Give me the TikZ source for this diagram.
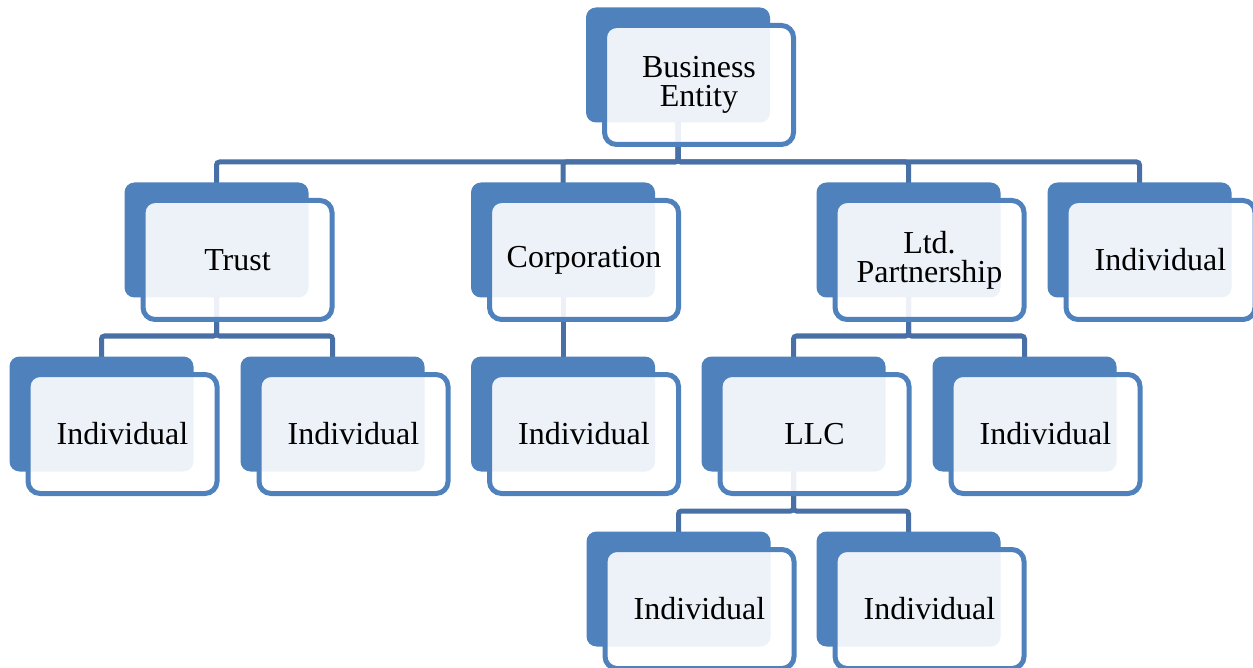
\documentclass[tikz,border=0pt]{standalone}
\usepackage{fontspec}
\setmainfont{Liberation Serif}
\definecolor{boxblue}{RGB}{79,129,189}
\definecolor{linkblue}{RGB}{72,112,166}
\tikzset{
  backbox/.style={rectangle, rounded corners=10pt, fill=boxblue, minimum width=184pt, minimum height=115pt, inner sep=0pt},
  frontbox/.style={rectangle, rounded corners=12pt, draw=boxblue, line width=5pt, fill=white, fill opacity=0.9, text opacity=1,
    minimum width=189pt, minimum height=119pt, inner sep=0pt, align=center, font=\fontsize{32}{29}\selectfont},
  conn/.style={draw=linkblue, line width=5pt, rounded corners=3pt}
}
\newcommand{\entity}[4]{%
  \node[backbox] (b#1) at (#2,#3) {};
  \node[frontbox] (#1) at (#2+21,#3+20) {#4};
}
\begin{document}
\begin{tikzpicture}[x=1pt,y=-1pt]
\useasboundingbox (0,0) rectangle (1253,668);
% coordinates of back boxes for connectors (drawn first)
\path (678,65) coordinate (cTop)
      (216.5,240) coordinate (cTrust) (563,240) coordinate (cCorp) (908.5,240) coordinate (cLtd) (1139.5,240) coordinate (cIndA)
      (101.5,414) coordinate (cIndB) (332.5,414) coordinate (cIndC) (563,414) coordinate (cIndD) (793.5,414) coordinate (cLLC) (1024.5,414) coordinate (cIndE)
      (678.5,589) coordinate (cIndF) (908.5,589) coordinate (cIndG);
% connectors
\foreach \c in {cTrust,cCorp,cLtd,cIndA}{
  \draw[conn] (cTop) -- (cTop |- 0,162) -| (\c);
}
\foreach \c in {cIndB,cIndC}{
  \draw[conn] (cTrust) -- (cTrust |- 0,336) -| (\c);
}
\draw[conn] (cCorp) -- (cIndD);
\foreach \c in {cLLC,cIndE}{
  \draw[conn] (cLtd) -- (cLtd |- 0,336) -| (\c);
}
\foreach \c in {cIndF,cIndG}{
  \draw[conn] (cLLC) -- (cLLC |- 0,511) -| (\c);
}
% boxes
\entity{top}{678}{65}{Business\\Entity}
\entity{trust}{216.5}{240}{Trust}
\entity{corp}{563}{240}{Corporation}
\entity{ltd}{908.5}{240}{Ltd.\\Partnership}
\entity{indA}{1139.5}{240}{Individual}
\entity{indB}{101.5}{414}{Individual}
\entity{indC}{332.5}{414}{Individual}
\entity{indD}{563}{414}{Individual}
\entity{llc}{793.5}{414}{LLC}
\entity{indE}{1024.5}{414}{Individual}
\entity{indF}{678.5}{589}{Individual}
\entity{indG}{908.5}{589}{Individual}
\end{tikzpicture}
\end{document}
